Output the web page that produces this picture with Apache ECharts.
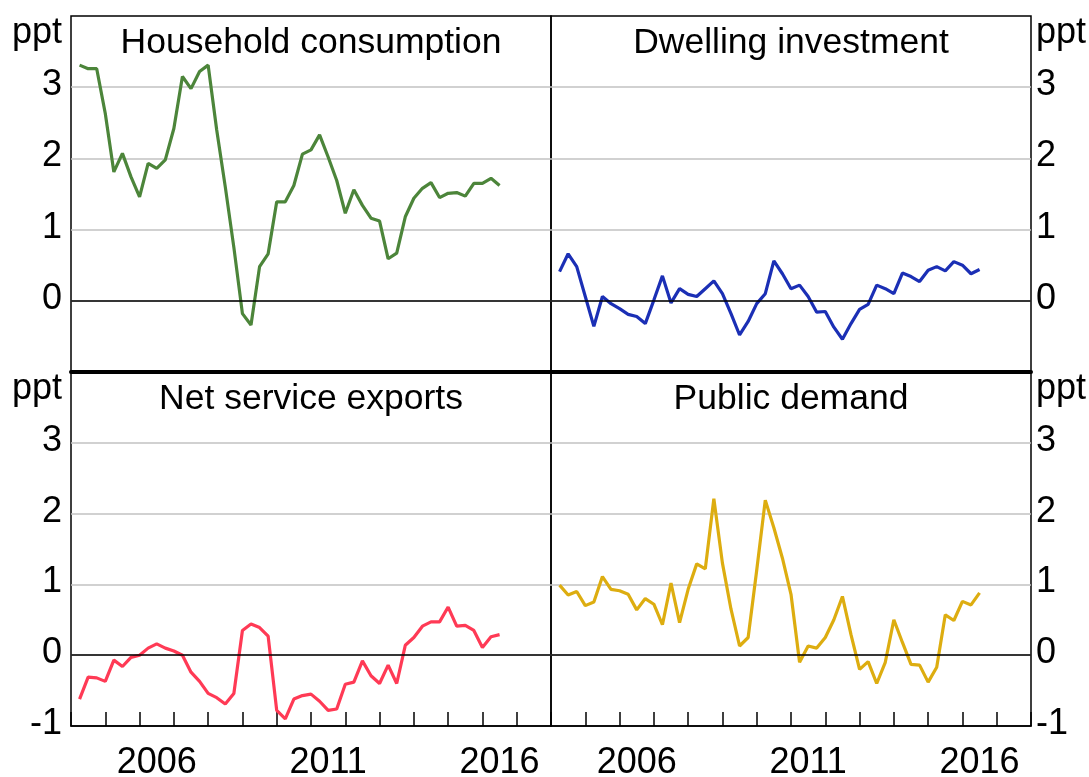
<!DOCTYPE html>
<html>
<head>
<meta charset="utf-8">
<script src="https://cdn.jsdelivr.net/npm/echarts@6/dist/echarts.min.js"></script>
<style>
  html, body { margin: 0; padding: 0; background: #fff; }
  #chart { width: 1089px; height: 777px; }
</style>
</head>
<body>
<div id="chart"></div>
<script>
// quarterly contributions, ppt, Mar 2004 to Jun 2016
const householdConsumption = [3.31, 3.26, 3.26, 2.63, 1.81, 2.07, 1.74, 1.46, 1.93, 1.86,
  1.98, 2.42, 3.15, 2.98, 3.22, 3.31, 2.4, 1.6, 0.75, -0.18,
  -0.34, 0.48, 0.66, 1.39, 1.39, 1.62, 2.06, 2.12, 2.33, 2.02,
  1.69, 1.23, 1.56, 1.34, 1.16, 1.12, 0.59, 0.67, 1.18, 1.44,
  1.58, 1.66, 1.45, 1.51, 1.52, 1.47, 1.65, 1.65, 1.72, 1.62]
const dwellingInvestment = [0.41, 0.66, 0.48, 0.06, -0.36, 0.06, -0.04, -0.11, -0.19, -0.22,
  -0.32, 0.01, 0.35, -0.03, 0.17, 0.09, 0.06, 0.17, 0.28, 0.10,
  -0.18, -0.48, -0.29, -0.04, 0.10, 0.56, 0.38, 0.17, 0.22, 0.06,
  -0.16, -0.15, -0.37, -0.54, -0.32, -0.12, -0.05, 0.22, 0.17, 0.10,
  0.39, 0.34, 0.27, 0.43, 0.48, 0.42, 0.55, 0.50, 0.38, 0.44]
const netServiceExports = [-0.62, -0.31, -0.32, -0.37, -0.07, -0.16, -0.03, 0.0, 0.10, 0.16,
  0.10, 0.06, 0.0, -0.24, -0.37, -0.54, -0.60, -0.69, -0.54, 0.35,
  0.44, 0.39, 0.27, -0.78, -0.90, -0.62, -0.57, -0.55, -0.65, -0.78,
  -0.76, -0.41, -0.38, -0.08, -0.29, -0.40, -0.14, -0.40, 0.14, 0.25,
  0.41, 0.47, 0.47, 0.68, 0.41, 0.42, 0.35, 0.11, 0.26, 0.29]
const publicDemand = [0.99, 0.85, 0.90, 0.70, 0.75, 1.11, 0.93, 0.91, 0.86, 0.64,
  0.80, 0.72, 0.43, 1.02, 0.46, 0.93, 1.29, 1.22, 2.21, 1.3,
  0.65, 0.13, 0.25, 1.2, 2.19, 1.8, 1.37, 0.86, -0.10, 0.13,
  0.10, 0.25, 0.50, 0.83, 0.29, -0.20, -0.09, -0.40, -0.10, 0.50,
  0.18, -0.13, -0.14, -0.38, -0.17, 0.57, 0.49, 0.76, 0.71, 0.88]

const panelTitles = ['Household consumption', 'Dwelling investment', 'Net service exports', 'Public demand']
const panelColors = ['#4c853a', '#1b2fb5', '#ff3a55', '#ddad10']
const yearLabels = [2006, 2011, 2016]
const yUnit = 'ppt'

// quarter x positions (decimal years)
const quarterX = []
for (let y = 2004; y <= 2016; y++) {
  for (let q = 1; q <= 4; q++) quarterX.push(y + q / 4)
}
quarterX.length = householdConsumption.length

const panelData = [householdConsumption, dwellingInvestment, netServiceExports, publicDemand]

const FONT = "'Liberation Sans', Arial, sans-serif"
const FS = 36
const layout = [
  { left: 71, top: 16, height: 356, side: 'left', topRow: true },
  { left: 551, top: 16, height: 356, side: 'right', topRow: true },
  { left: 71, top: 372, height: 354, side: 'left', topRow: false },
  { left: 551, top: 372, height: 354, side: 'right', topRow: false }
]
const W = 480

const chart = echarts.init(document.getElementById('chart'))

let grids = []
let xAxes = []
let yAxes = []
let series = []
let titles = []

layout.forEach((p, i) => {
  grids.push({
    left: p.left, top: p.top, width: W, height: p.height,
    show: true, borderColor: '#000', borderWidth: 1.5,
    containLabel: false, outerBoundsMode: 'none'
  })

  xAxes.push({
    type: 'value', gridIndex: i, min: 2004, max: 2018, interval: 1,
    position: 'bottom',
    axisLine: { show: true, onZero: false, lineStyle: { color: '#000', width: p.topRow ? 4 : 1.5 } },
    axisTick: { show: !p.topRow, inside: true, length: 14, lineStyle: { color: '#000', width: 1.5 } },
    axisLabel: { show: false },
    splitLine: { show: false }
  })

  yAxes.push({
    type: 'value', gridIndex: i, min: -1, max: 4, interval: 1,
    position: p.side,
    axisLine: { show: false },
    axisTick: { show: false },
    splitLine: {
      show: true, showMinLine: false, showMaxLine: false,
      lineStyle: { color: '#c2c2c2', width: 1.5 }
    },
    axisLabel: {
      margin: p.side === 'left' ? 9 : 5,
      color: '#000', fontSize: FS, fontFamily: FONT, lineHeight: FS,
      padding: [0, 0, 4, 0],
      formatter: v => {
        if (v === 4) return '{u|' + yUnit + '}'
        if (v === -1 && p.topRow) return ''
        return String(v)
      },
      rich: {
        u: { padding: [38, 0, 0, 0], fontSize: FS, fontFamily: FONT, color: '#000', lineHeight: FS }
      }
    }
  })

  titles.push({
    text: panelTitles[i],
    left: p.left + W / 2, top: p.top + 9,
    textAlign: 'center', padding: 0,
    textStyle: { fontSize: 35.5, fontWeight: 'normal', color: '#000', fontFamily: FONT, lineHeight: FS }
  })

  series.push({
    type: 'line',
    xAxisIndex: i, yAxisIndex: i,
    data: quarterX.map((x, k) => [x, panelData[i][k]]),
    showSymbol: false,
    lineStyle: { color: panelColors[i], width: 3.2 },
    itemStyle: { color: panelColors[i] },
    markLine: {
      silent: true, symbol: 'none', animation: false,
      label: { show: false },
      lineStyle: { color: '#000', width: 1.5, type: 'solid' },
      data: [{ yAxis: 0 }]
    }
  })
})

// year labels sit in the middle of each year on the bottom panels
;[2, 3].forEach(i => {
  xAxes.push({
    type: 'value', gridIndex: i, min: 2004, max: 2018, interval: 0.5,
    position: 'bottom',
    axisLine: { show: false, onZero: false },
    axisTick: { show: false },
    splitLine: { show: false },
    axisLabel: {
      margin: 19, color: '#000', fontSize: FS, fontFamily: FONT, lineHeight: FS,
      formatter: v => (v % 1 !== 0 && yearLabels.includes(v - 0.5)) ? String(v - 0.5) : ''
    }
  })
})

chart.setOption({
  animation: false,
  backgroundColor: '#fff',
  title: titles,
  grid: grids,
  xAxis: xAxes,
  yAxis: yAxes,
  series: series
})
</script>
</body>
</html>
